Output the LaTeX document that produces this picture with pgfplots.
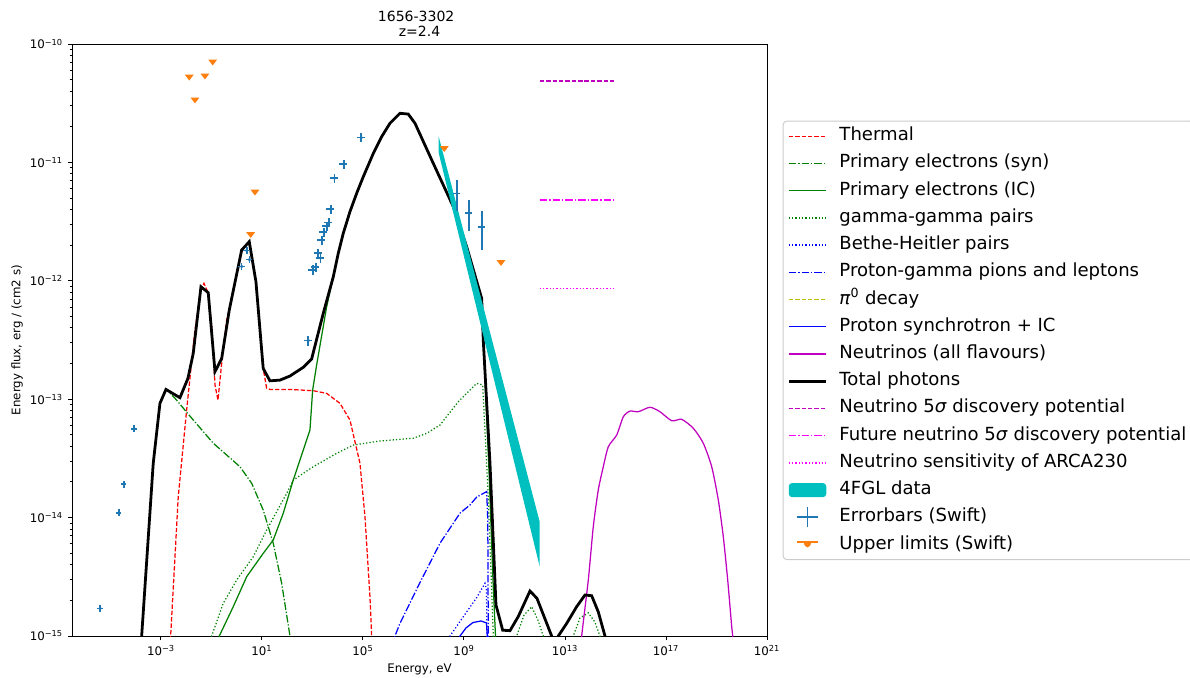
\documentclass[border=0pt]{standalone}
\usepackage{fontspec}
\setmainfont{DejaVu Sans}
\usepackage{pgfplots}
\pgfplotsset{compat=1.18}

\definecolor{mplred}{rgb}{1,0,0}
\definecolor{mplgreen}{rgb}{0,0.5,0}
\definecolor{mplblue}{rgb}{0,0,1}
\definecolor{mplyellow}{rgb}{0.75,0.75,0}
\definecolor{mplmag}{rgb}{0.75,0,0.75}
\definecolor{mplmagb}{rgb}{1,0,1}
\definecolor{mplcyan}{rgb}{0,0.75,0.75}
\definecolor{tabblue}{rgb}{0.122,0.467,0.706}
\definecolor{taborange}{rgb}{1,0.498,0.055}
\definecolor{legframe}{rgb}{0.8,0.8,0.8}

% downward triangle used for the upper limits
\pgfdeclareplotmark{ultri}{%
  \pgfpathmoveto{\pgfqpoint{-3.2pt}{1.7pt}}%
  \pgfpathlineto{\pgfqpoint{3.2pt}{1.7pt}}%
  \pgfpathlineto{\pgfqpoint{0pt}{-2.5pt}}%
  \pgfpathclose
  \pgfusepathqfill
}

\tikzset{
  mpldashed/.style={dash pattern=on 3.2pt off 1.4pt},
  mpldashdot/.style={dash pattern=on 5.5pt off 1.4pt on 0.9pt off 1.4pt},
  mpldotted/.style={dash pattern=on 0.9pt off 1.5pt},
}

\begin{document}
\begin{tikzpicture}
\useasboundingbox (-51.84pt,-29.52pt) rectangle (804.96pt,457.92pt);
\begin{loglogaxis}[
  at={(0,0)}, anchor=south west,
  scale only axis, width=500.4pt, height=426.24pt,
  xmin=3e-7, xmax=1e21, ymin=1e-15, ymax=1e-10,
  xtick={1e-3,1e1,1e5,1e9,1e13,1e17,1e21},
  xticklabels={10\textsuperscript{−3},10\textsuperscript{1},10\textsuperscript{5},10\textsuperscript{9},10\textsuperscript{13},10\textsuperscript{17},10\textsuperscript{21}},
  ytick={1e-15,1e-14,1e-13,1e-12,1e-11,1e-10},
  yticklabels={10\textsuperscript{−15},10\textsuperscript{−14},10\textsuperscript{−13},10\textsuperscript{−12},10\textsuperscript{−11},10\textsuperscript{−10}},
  minor ytick={2e-15,3e-15,4e-15,5e-15,6e-15,7e-15,8e-15,9e-15,
               2e-14,3e-14,4e-14,5e-14,6e-14,7e-14,8e-14,9e-14,
               2e-13,3e-13,4e-13,5e-13,6e-13,7e-13,8e-13,9e-13,
               2e-12,3e-12,4e-12,5e-12,6e-12,7e-12,8e-12,9e-12,
               2e-11,3e-11,4e-11,5e-11,6e-11,7e-11,8e-11,9e-11},
  xminorticks=false,
  tick align=outside, tick pos=left,
  major tick length=3pt, minor tick length=1.7pt,
  every tick/.style={black, line width=0.7pt},
  axis line style={line width=0.7pt},
  tick label style={font=\fontsize{8.5}{10}\selectfont},
  xlabel={Energy, eV},
  ylabel={Energy flux, erg / (cm2 s)},
  label style={font=\fontsize{8.5}{10}\selectfont},
  xlabel style={at={(axis description cs:0.5,0)}, anchor=north, inner sep=0pt, yshift=-20pt},
  ylabel style={at={(axis description cs:-0.0791,0.5)}, anchor=center, inner sep=0pt},
  legend style={at={(axis description cs:1.0226,0.8704)}, anchor=north west,
    draw=legframe, rounded corners=2.5pt, line width=0.7pt,
    inner xsep=3pt, inner ysep=1pt,
    font=\fontsize{13}{15.6}\selectfont,
    nodes={inner sep=2pt, text height=11pt, text depth=4.6pt},
    /tikz/every odd column/.append style={column sep=6.5pt}},
  legend cell align=left,
  legend image code/.code={\draw[#1] (0cm,0cm) -- (0.95cm,0cm);},
]

% thermal component
\addplot[mplred, line width=0.9pt, mpldashed] coordinates {
(2.07e-3,6.3e-16) (2.42e-3,1.0e-15) (4.84e-3,1.50e-14) (1.04e-2,8.11e-14)
(2.22e-2,3.84e-13) (3.84e-2,8.36e-13) (5.05e-2,9.53e-13) (7.46e-2,7.89e-13)
(0.105,3.84e-13) (0.138,1.32e-13) (0.181,9.84e-14) (0.254,2.01e-13)
(0.40,4.67e-13) (0.507,5.66e-13) (1.57,1.82e-12) (3.14,2.17e-12)
(5.78,9.82e-13) (11.2,1.82e-13) (15.3,1.24e-13) (20.7,1.21e-13)
(128.5,1.21e-13) (1076,1.18e-13) (3648,1.12e-13) (12274,9.23e-14)
(30549,6.67e-14) (76000,2.88e-14) (1.20e5,1.02e-14) (1.89e5,2.15e-15)
(2.21e5,1.0e-15) (2.38e5,6.3e-16)
};
\addlegendentry{Thermal}

% primary electrons, synchrotron
\addplot[mplgreen, line width=0.9pt, mpldashdot] coordinates {
(1.49e-4,6.3e-16) (4.95e-4,2.88e-14) (9.12e-4,9.23e-14) (1.58e-3,1.21e-13)
(3.58e-3,1.02e-13) (1.64e-2,6.93e-14) (0.118,4.25e-14) (1.35,2.69e-14)
(3.91,1.95e-14) (11.2,1.16e-14) (28.0,6.07e-15) (60.3,2.79e-15)
(128.5,1.0e-15) (154,7.6e-16)
};
\addlegendentry{Primary electrons (syn)}

% primary electrons, inverse Compton
\addplot[mplgreen, line width=0.9pt] coordinates {
(0.165,6.3e-16) (0.204,1.0e-15) (0.730,1.77e-15) (2.48,3.17e-15)
(11.2,4.99e-15) (28.0,6.47e-15) (69.8,1.09e-14) (174,2.08e-14)
(432.5,3.72e-14) (796,5.50e-14) (1019,1.20e-13) (1466,1.95e-13)
(3648,6.04e-13) (6668,1.08e-12) (10520,1.71e-12) (16596,2.52e-12)
(30549,3.84e-12) (56234,5.48e-12) (1.03e5,7.57e-12) (2.56e5,1.19e-11)
(5.51e5,1.65e-11) (1.17e6,2.14e-11) (2.92e6,2.60e-11) (6.22e6,2.56e-11)
(1.15e7,2.14e-11) (6.08e7,9.82e-12) (3.77e8,4.23e-12) (1.28e9,1.94e-12)
(5.02e9,7.11e-13) (5.81e9,3.16e-13) (9.77e9,2.52e-14) (1.41e10,2.97e-15)
(1.77e10,1.0e-15) (1.85e10,6.3e-16)
};
\addlegendentry{Primary electrons (IC)}

% gamma-gamma pairs
\addplot[mplgreen, line width=0.9pt, mpldotted] coordinates {
(7.26e-2,6.3e-16) (0.102,1.0e-15) (0.293,1.89e-15) (0.995,2.97e-15)
(4.52,4.68e-15) (15.3,7.85e-15) (95.1,1.60e-14) (174,2.08e-14)
(1076,2.69e-14) (9080,3.49e-14) (41300,4.10e-14) (4.71e5,4.44e-14)
(9.82e6,4.68e-14) (3.33e7,5.15e-14) (1.12e8,6.05e-14) (5.94e8,9.53e-14)
(3.18e9,1.36e-13) (5.51e9,1.32e-13) (9.16e9,1.50e-14) (1.45e10,1.0e-15)
(1.85e10,2.9e-16) (6.64e10,2.9e-16) (1.22e11,1.0e-15) (2.38e11,1.50e-15)
(4.80e11,1.77e-15) (8.53e11,1.36e-15) (1.38e12,1.0e-15) (2.12e12,2.9e-16)
(1.32e13,2.9e-16) (2.13e13,1.0e-15) (3.93e13,1.42e-15) (8.38e13,1.57e-15)
(1.54e14,1.31e-15) (2.43e14,1.0e-15) (3.2e14,2.9e-16)
};
\addlegendentry{gamma-gamma pairs}

% Bethe-Heitler pairs
\addplot[mplblue, line width=0.9pt, mpldotted] coordinates {
(2.12e8,6.3e-16) (2.79e8,1.0e-15) (1.28e9,1.60e-15) (3.27e9,2.13e-15)
(6.79e9,2.79e-15) (7.78e9,2.45e-15) (8.15e9,1.0e-15) (8.5e9,6.3e-16)
};
\addlegendentry{Bethe-Heitler pairs}

% proton-gamma pions and leptons
\addplot[mplblue, line width=0.9pt, mpldashdot] coordinates {
(1.54e6,6.3e-16) (1.85e6,1.0e-15) (2.92e6,1.28e-15) (1.81e7,2.83e-15)
(1.12e8,6.07e-15) (6.95e8,1.09e-14) (1.73e9,1.28e-14) (3.18e9,1.49e-14)
(7.92e9,1.66e-14) (8.77e9,9.55e-15) (9.16e9,1.0e-15) (9.44e9,6.3e-16)
};
\addlegendentry{Proton-gamma pions and leptons}

\addlegendimage{mplyellow, line width=0.9pt, mpldashed}
\addlegendentry{\textit{π}\textsuperscript{0} decay}

% proton synchrotron + IC
\addplot[mplblue, line width=0.9pt] coordinates {
(4.82e8,6.3e-16) (6.95e8,1.0e-15) (1.20e9,1.17e-15) (2.27e9,1.30e-15)
(4.71e9,1.34e-15) (7.78e9,1.29e-15) (8.37e9,1.0e-15) (8.5e9,6.3e-16)
};
\addlegendentry{Proton synchrotron + IC}

% neutrinos
\addplot[mplmag, line width=0.9pt, smooth, tension=0.4] coordinates {
(4.31e13,6.3e-16) (4.58e13,9.9e-16) (8.38e13,2.97e-15) (1.32e14,8.38e-15)
(2.08e14,1.71e-14) (3.29e14,2.69e-14) (5.19e14,3.97e-14) (1.12e15,4.99e-14)
(2.04e15,7.11e-14) (3.75e15,7.94e-14) (8.0e15,7.84e-14) (2.32e16,8.55e-14)
(5.78e16,7.84e-14) (1.68e17,6.58e-14) (4.19e17,6.76e-14) (1.21e18,5.68e-14)
(3.00e18,4.25e-14) (6.46e18,2.69e-14) (1.18e19,1.41e-14) (1.86e19,6.90e-15)
(2.78e19,2.97e-15) (4.0e19,1.20e-15) (4.39e19,1.0e-15) (4.7e19,6.3e-16)
};
\addlegendentry{Neutrinos (all flavours)}

% total photon spectrum
\addplot[black, line width=2pt] coordinates {
(1.49e-4,6.3e-16) (4.95e-4,2.88e-14) (9.12e-4,9.23e-14) (1.58e-3,1.21e-13)
(5.65e-3,1.03e-13) (1.17e-2,1.50e-13) (1.90e-2,2.44e-13) (3.84e-2,8.91e-13)
(7.46e-2,7.94e-13) (0.138,1.71e-13) (0.254,2.21e-13) (0.507,5.66e-13)
(1.57,1.82e-12) (3.14,2.14e-12) (5.78,9.82e-13) (11.2,1.82e-13)
(20.7,1.43e-13) (51.6,1.45e-13) (128.5,1.57e-13) (432.5,1.86e-13)
(929,2.19e-13) (2679,5.32e-13) (6668,1.08e-12) (10520,1.71e-12)
(16596,2.52e-12) (30549,3.84e-12) (56234,5.48e-12) (1.03e5,7.57e-12)
(2.56e5,1.19e-11) (5.51e5,1.65e-11) (1.17e6,2.14e-11) (2.92e6,2.60e-11)
(6.22e6,2.56e-11) (1.15e7,2.14e-11) (6.08e7,9.82e-12) (3.77e8,4.23e-12)
(1.28e9,1.94e-12) (5.02e9,7.11e-13) (5.81e9,3.16e-13) (1.07e10,2.89e-14)
(1.85e10,1.83e-15) (3.41e10,1.12e-15) (6.64e10,1.11e-15) (1.41e11,1.46e-15)
(4.11e11,2.40e-15) (7.78e11,2.08e-15) (2.97e12,1.0e-15) (4.02e12,8.4e-16)
(5.43e12,1.0e-15) (1.17e13,1.28e-15) (2.90e13,1.77e-15) (6.19e13,2.22e-15)
(1.14e14,2.19e-15) (2.08e14,1.60e-15) (3.84e14,1.0e-15) (5.05e14,7.6e-16)
};
\addlegendentry{Total photons}

% neutrino telescope levels
\addplot[mplmag, line width=0.9pt, mpldashed] coordinates {(1e12,4.87e-11) (1e15,4.87e-11)};
\addlegendentry{Neutrino 5\textit{σ} discovery potential}
\addplot[mplmagb, line width=0.9pt, mpldashdot] coordinates {(1e12,4.81e-12) (1e15,4.81e-12)};
\addlegendentry{Future neutrino 5\textit{σ} discovery potential}
\addplot[mplmagb, line width=0.9pt, mpldotted] coordinates {(1e12,8.65e-13) (1e15,8.65e-13)};
\addlegendentry{Neutrino sensitivity of ARCA230}

% Fermi-LAT butterfly
\addplot[fill=mplcyan, draw=none,
  legend image code/.code={\fill[mplcyan] (0cm,-0.18cm) rectangle (0.95cm,0.18cm);}]
  coordinates {(1e8,1.65e-11) (1e12,9.2e-15) (1e12,3.85e-15) (1e8,1.2e-11)} -- cycle;
\addlegendentry{4FGL data}

% Swift detections
\addplot[tabblue, only marks, mark=*, mark size=1pt, forget plot,
  error bars/.cd, x dir=both, x explicit relative, y dir=both, y explicit relative,
  error bar style={line width=1.2pt, color=tabblue}, error mark=none]
  table[x=x, y=y, x error=ex, y error=ey] {
x       y        ex    ey
3.94e-6 1.71e-15 0.25  0.065
2.17e-5 1.10e-14 0.25  0.065
3.43e-5 1.92e-14 0.25  0.065
8.77e-5 5.64e-14 0.25  0.065
1.57    1.32e-12 0.3   0.07
2.48    1.80e-12 0.3   0.07
3.20    1.51e-12 0.3   0.07
682     3.13e-13 0.35  0.1
1047    1.24e-12 0.35  0.09
1377    1.31e-12 0.35  0.09
1698    1.71e-12 0.35  0.09
2075    1.56e-12 0.35  0.09
2377    2.21e-12 0.35  0.09
2851    2.58e-12 0.35  0.09
3750    2.90e-12 0.35  0.09
4498    3.10e-12 0.35  0.09
5260    4.02e-12 0.35  0.09
7430    7.38e-12 0.35  0.09
17700   9.64e-12 0.35  0.09
85700   1.62e-11 0.35  0.09
5.28e8  5.48e-12 0.3   0.29
1.61e9  3.72e-12 0.3   0.29
5.02e9  2.86e-12 0.3   0.36
};
\addlegendimage{legend image code/.code={%
  \draw[draw=tabblue, line width=1.3pt] (0.2cm,0cm) -- (0.75cm,0cm);
  \draw[draw=tabblue, line width=1.3pt] (0.475cm,-0.25cm) -- (0.475cm,0.25cm);}}
\addlegendentry{Errorbars (Swift)}

% Swift upper limits
\addplot[taborange, only marks, mark=ultri,
  legend image code/.code={\draw[taborange, line width=1.2pt] (0.2cm,0.07cm) -- (0.75cm,0.07cm); \fill[taborange] (0.36cm,0.07cm) -- (0.59cm,0.07cm) -- (0.475cm,-0.1cm) -- cycle;}]
  coordinates {
(1.32e-2,5.26e-11) (2.22e-2,3.37e-11) (5.53e-2,5.37e-11) (0.112,7.05e-11)
(5.28,5.62e-12) (3.57,2.46e-12) (1.66e8,1.31e-11) (2.92e10,1.43e-12)
};
\addlegendentry{Upper limits (Swift)}

\end{loglogaxis}
% two-line title above the axis box
\node[anchor=base, inner sep=0pt, font=\fontsize{10.1}{12}\selectfont] at (247.8pt,442.6pt) {1656-3302};
\node[anchor=base, inner sep=0pt, font=\fontsize{10.1}{12}\selectfont] at (250.2pt,431.8pt) {z=2.4};
\end{tikzpicture}
\end{document}
